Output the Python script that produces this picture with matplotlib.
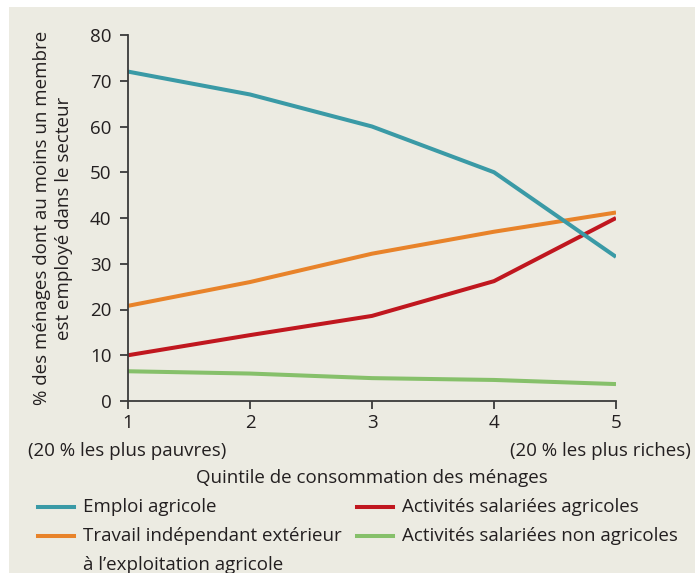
import matplotlib
matplotlib.use("Agg")
import matplotlib.pyplot as plt
from matplotlib.patches import Rectangle
from matplotlib.lines import Line2D

plt.rcParams['font.family'] = ['Open Sans', 'DejaVu Sans']

quintiles = [1, 2, 3, 4, 5]
emploi_agricole = [72, 67, 60, 50, 31.5]
travail_independant = [20.8, 26, 32.2, 37, 41.2]
salariees_agricoles = [10, 14.4, 18.6, 26.2, 40]
salariees_non_agricoles = [6.5, 6, 5, 4.6, 3.7]

series = [
    (["Emploi agricole"], emploi_agricole, "#3a9aa6"),
    (["Activités salariées agricoles"], salariees_agricoles, "#c0171f"),
    (["Travail indépendant extérieur", "à l\u2019exploitation agricole"], travail_independant, "#e8832a"),
    (["Activités salariées non agricoles"], salariees_non_agricoles, "#86c06a"),
]

bg = "#ecebe2"
ink = "#231f20"
fs = 13.5
W, H = 695, 573

fig = plt.figure(figsize=(6.95, 5.73), dpi=100)
fig.patch.set_facecolor("white")
fig.patches.append(Rectangle((9 / W, 0), 1, 1 - 7 / H, transform=fig.transFigure,
                             facecolor=bg, edgecolor="none", zorder=-10))

ax = fig.add_axes([128 / W, 1 - 401 / H, 488 / W, 366 / H])
ax.set_facecolor("none")

for name, vals, col in [series[3], series[1], series[2], series[0]]:
    ax.plot(quintiles, vals, color=col, lw=2.9, solid_capstyle="butt", solid_joinstyle="round")

ax.set_xlim(1, 5)
ax.set_ylim(0, 80)
ax.set_xticks(quintiles)
ax.set_yticks(range(0, 81, 10))
for s in ["top", "right"]:
    ax.spines[s].set_visible(False)
for s in ["left", "bottom"]:
    ax.spines[s].set_color("#3a3a3a")
    ax.spines[s].set_linewidth(1.3)
ax.tick_params(colors="#3a3a3a", labelcolor=ink, labelsize=fs, length=6, width=1.3)
ax.tick_params(axis="y", pad=6)
ax.tick_params(axis="x", pad=3)

fig.text(53 / W, 1 - 218 / H, "% des ménages dont au moins un membre\nest employé dans le secteur",
         fontsize=fs, color=ink, rotation=90, ha="center", va="center",
         multialignment="center", linespacing=1.25)

fig.text(28 / W, 1 - 456 / H, "(20 % les plus pauvres)", fontsize=fs, color=ink,
         ha="left", va="baseline")
fig.text(691 / W, 1 - 456 / H, "(20 % les plus riches)", fontsize=fs, color=ink,
         ha="right", va="baseline")
fig.text(372 / W, 1 - 483 / H, "Quintile de consommation des ménages", fontsize=fs,
         color=ink, ha="center", va="baseline")

# legend by hand: line y, text baselines 5 px lower, 29 px between rows
leg_pos = [(38, 507), (357, 507), (38, 536), (357, 536)]
for (lines, vals, col), (lx, ly) in zip(series, leg_pos):
    fig.add_artist(Line2D([lx / W, (lx + 36) / W], [1 - ly / H] * 2,
                          transform=fig.transFigure, color=col, lw=2.9))
    for i, txt in enumerate(lines):
        fig.text((lx + 45) / W, 1 - (ly + 5 + 29 * i) / H, txt, fontsize=fs, color=ink,
                 ha="left", va="baseline")

fig.savefig("out.png", dpi=100, facecolor=fig.get_facecolor())
